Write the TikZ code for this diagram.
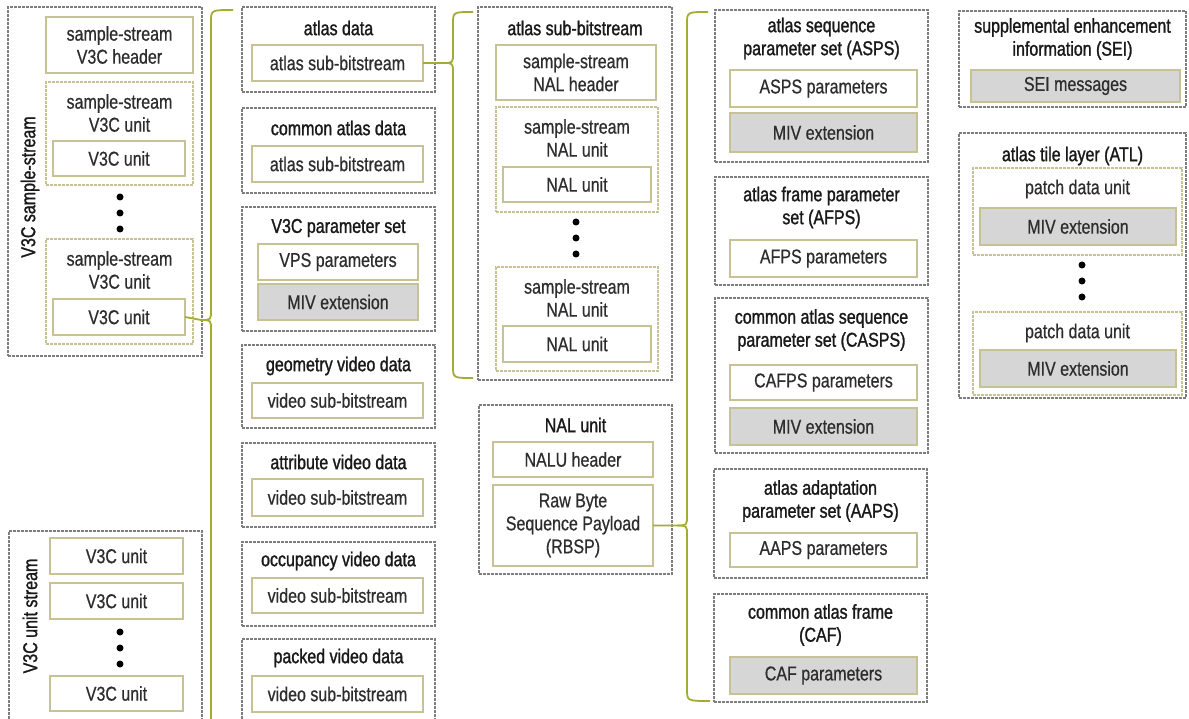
\documentclass[tikz,border=0pt]{standalone}
\usepackage{fontspec}
\setmainfont{Liberation Sans}[FakeStretch=0.80, FakeBold=0.6]
\newfontfamily\headfont{Liberation Sans}[FakeStretch=0.80, FakeBold=1.3]
\usetikzlibrary{calc}

\definecolor{frame}{RGB}{125,125,125}
\definecolor{khaki}{RGB}{198,194,148}
\definecolor{shade}{RGB}{214,214,214}
\definecolor{bracecol}{RGB}{165,172,50}
\definecolor{ink}{RGB}{45,45,45}

\tikzset{
  every node/.style={font=\fontsize{20}{23}\selectfont, text=ink, align=center,
                     inner sep=0pt, outer sep=0pt},
  group/.style={draw=frame, line width=1.5pt, dash pattern=on 2.6pt off 1.4pt},
  subgroup/.style={draw=khaki, line width=1.4pt, dash pattern=on 2.6pt off 1.4pt},
  field/.style={draw=khaki, line width=1.7pt, fill=white},
  ext/.style={draw=khaki, line width=1.7pt, fill=shade},
  title/.style={text=black!90, font=\fontsize{20}{23}\headfont},
  dot/.style={circle, fill=black, minimum size=7pt},
  brace/.style={draw=bracecol, line width=1.8pt, line join=round},
}

% box given by its corners: style, name, x1, y1, x2, y2, text
\newcommand\mkbox[7]{%
  \node[#1, minimum width={(#5-#3)*1pt}, minimum height={(#6-#4)*1pt}]
    (#2) at ({(#3+#5)/2},{(#4+#6)/2}) {#7};}

\begin{document}
\begin{tikzpicture}[x=1pt, y=-1pt]
\useasboundingbox (0,0) rectangle (1189,719);

% ---------- V3C sample-stream ----------
\mkbox{group}{ss}{8}{7}{202}{356}{}
\node[title, rotate=90] (l-ss) at (30,187) {V3C sample-stream};
\mkbox{field}{ssh}{46}{17}{193}{73}{sample-stream\\V3C header}
\mkbox{subgroup}{ssu1}{46}{82}{193}{185}{}
\node (t-ssu1) at (119.5,113) {sample-stream\\V3C unit};
\mkbox{field}{u1}{53}{141}{185}{176}{V3C unit}
\node[dot] (d1a) at (120,197) {};
\node[dot] (d1b) at (120,213) {};
\node[dot] (d1c) at (120,229) {};
\mkbox{subgroup}{ssu2}{46}{239}{193}{344}{}
\node (t-ssu2) at (119.5,270) {sample-stream\\V3C unit};
\mkbox{field}{u2}{53}{299}{185}{335}{V3C unit}

% ---------- V3C unit stream ----------
\mkbox{group}{us}{9}{531}{202}{740}{}
\node[title, rotate=90] (l-us) at (30,616) {V3C unit stream};
\mkbox{field}{uu1}{50}{538}{183}{574}{V3C unit}
\mkbox{field}{uu2}{50}{583}{183}{619}{V3C unit}
\node[dot] (d2a) at (120,632) {};
\node[dot] (d2b) at (120,648) {};
\node[dot] (d2c) at (120,664) {};
\mkbox{field}{uu3}{50}{676}{183}{711}{V3C unit}

% ---------- V3C unit payloads ----------
\mkbox{group}{ad}{242}{7}{435}{92}{}
\node[title] (t-ad) at (338.5,28) {atlas data};
\mkbox{field}{ad-in}{252}{45}{423}{81}{atlas sub-bitstream}

\mkbox{group}{cad}{242}{108}{435}{193}{}
\node[title] (t-cad) at (338.5,128) {common atlas data};
\mkbox{field}{cad-in}{252}{146}{423}{182}{atlas sub-bitstream}

\mkbox{group}{vps}{242}{207}{435}{331}{}
\node[title] (t-vps) at (338.5,228) {V3C parameter set};
\mkbox{field}{vps-p}{258}{244}{418}{280}{VPS parameters}
\mkbox{ext}{vps-m}{258}{284}{418}{320}{MIV extension}

\mkbox{group}{gvd}{242}{345}{435}{428}{}
\node[title] (t-gvd) at (338.5,366) {geometry video data};
\mkbox{field}{gvd-in}{252}{383}{423}{418}{video sub-bitstream}

\mkbox{group}{avd}{242}{443}{435}{527}{}
\node[title] (t-avd) at (338.5,462) {attribute video data};
\mkbox{field}{avd-in}{252}{479}{423}{516}{video sub-bitstream}

\mkbox{group}{ovd}{242}{542}{435}{626}{}
\node[title] (t-ovd) at (338.5,561) {occupancy video data};
\mkbox{field}{ovd-in}{252}{578}{423}{613}{video sub-bitstream}

\mkbox{group}{pvd}{242}{639}{435}{740}{}
\node[title] (t-pvd) at (338.5,658) {packed video data};
\mkbox{field}{pvd-in}{252}{676}{423}{712}{video sub-bitstream}

% ---------- atlas sub-bitstream ----------
\mkbox{group}{asb}{478}{7}{672}{380}{}
\node[title] (t-asb) at (575,28) {atlas sub-bitstream};
\mkbox{field}{ssnh}{496}{45}{656}{100}{sample-stream\\NAL header}
\mkbox{subgroup}{ssn1}{496}{107}{658}{212}{}
\node (t-ssn1) at (577,138) {sample-stream\\NAL unit};
\mkbox{field}{n1}{503}{167}{651}{202}{NAL unit}
\node[dot] (d3a) at (576,222) {};
\node[dot] (d3b) at (576,238) {};
\node[dot] (d3c) at (576,254) {};
\mkbox{subgroup}{ssn2}{496}{267}{658}{371}{}
\node (t-ssn2) at (577,298) {sample-stream\\NAL unit};
\mkbox{field}{n2}{503}{326}{651}{362}{NAL unit}

% ---------- NAL unit ----------
\mkbox{group}{nal}{479}{405}{672}{574}{}
\node[title] (t-nal) at (575.5,425) {NAL unit};
\mkbox{field}{naluh}{493}{442}{653}{477}{NALU header}
\mkbox{field}{rbsp}{493}{485}{653}{566}{Raw Byte\\Sequence Payload\\(RBSP)}

% ---------- RBSP kinds ----------
\mkbox{group}{asps}{715}{10}{928}{162}{}
\node[title] (t-asps) at (821.5,38.5) {atlas sequence\\parameter set (ASPS)};
\mkbox{field}{asps-p}{730}{70}{917}{107}{ASPS parameters}
\mkbox{ext}{asps-m}{730}{113}{917}{152}{MIV extension}

\mkbox{group}{afps}{715}{177}{928}{285}{}
\node[title] (t-afps) at (821.5,207.5) {atlas frame parameter\\set (AFPS)};
\mkbox{field}{afps-p}{730}{240}{917}{277}{AFPS parameters}

\mkbox{group}{casps}{715}{298}{928}{453}{}
\node[title] (t-casps) at (821.5,330) {common atlas sequence\\parameter set (CASPS)};
\mkbox{field}{casps-p}{730}{365}{917}{400}{CAFPS parameters}
\mkbox{ext}{casps-m}{730}{408}{917}{445}{MIV extension}

\mkbox{group}{aaps}{714}{469}{927}{578}{}
\node[title] (t-aaps) at (820.5,501) {atlas adaptation\\parameter set (AAPS)};
\mkbox{field}{aaps-p}{730}{533}{917}{567}{AAPS parameters}

\mkbox{group}{caf}{714}{594}{927}{702}{}
\node[title] (t-caf) at (820.5,625) {common atlas frame\\(CAF)};
\mkbox{ext}{caf-p}{730}{657}{917}{694}{CAF parameters}

\mkbox{group}{sei}{959}{11}{1186}{107}{}
\node[title] (t-sei) at (1072.5,39) {supplemental enhancement\\information (SEI)};
\mkbox{ext}{sei-m}{971}{70}{1180}{102}{SEI messages}

\mkbox{group}{atl}{959}{133}{1186}{398}{}
\node[title] (t-atl) at (1072.5,156) {atlas tile layer (ATL)};
\mkbox{subgroup}{pdu1}{973}{168}{1182}{255}{}
\node (t-pdu1) at (1077.5,189) {patch data unit};
\mkbox{ext}{pdu1-m}{980}{208}{1176}{245}{MIV extension}
\node[dot] (d4a) at (1082,265) {};
\node[dot] (d4b) at (1082,281) {};
\node[dot] (d4c) at (1082,297) {};
\mkbox{subgroup}{pdu2}{973}{312}{1182}{395}{}
\node (t-pdu2) at (1077.5,333) {patch data unit};
\mkbox{ext}{pdu2-m}{980}{350}{1176}{387}{MIV extension}

% ---------- braces ----------
\coordinate (b1top) at (233,10);
\coordinate (b1bot) at (211,722);
\draw[brace] (u2.east) -- (201,320) .. controls (211,320) .. (211,310)
  -- (211,22) .. controls (211,10) .. (b1top);
\draw[brace] (201,320) .. controls (211,320) .. (211,330) -- (b1bot);

\coordinate (b2top) at (473,12);
\coordinate (b2bot) at (473,378);
\draw[brace] (ad-in.east) -- (443,63) .. controls (453,63) .. (453,53)
  -- (453,24) .. controls (453,12) .. (b2top);
\draw[brace] (443,63) .. controls (453,63) .. (453,73)
  -- (453,366) .. controls (453,378) .. (b2bot);

\coordinate (b3top) at (708,12);
\coordinate (b3bot) at (710,701);
\draw[brace] (rbsp.east) -- (677,525.5) .. controls (687,525.5) .. (687,515.5)
  -- (687,24) .. controls (687,12) .. (b3top);
\draw[brace] (677,525.5) .. controls (687,525.5) .. (687,535.5)
  -- (687,689) .. controls (687,701) .. (b3bot);
\end{tikzpicture}
\end{document}
